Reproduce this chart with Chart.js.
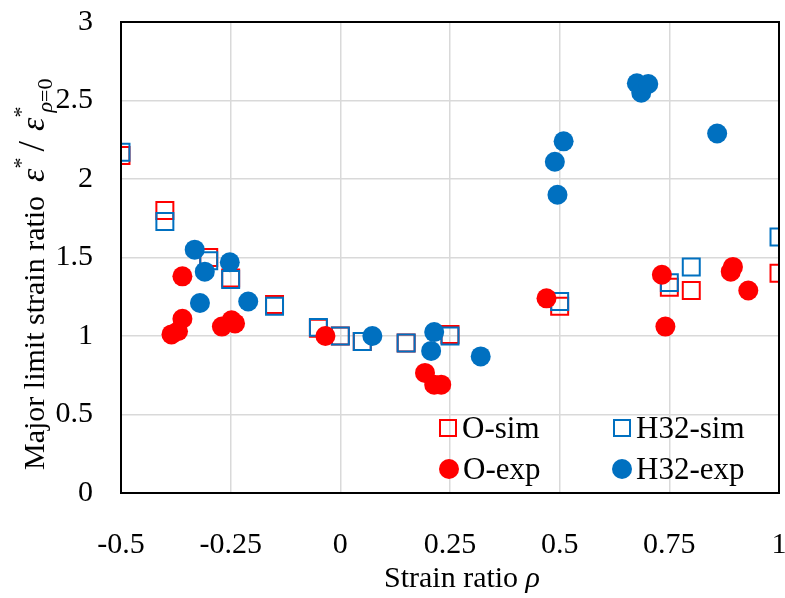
<!DOCTYPE html>
<html>
<head>
<meta charset="utf-8">
<script src="https://cdn.jsdelivr.net/npm/chart.js@4/dist/chart.umd.min.js"></script>
<style>
  html, body { margin: 0; padding: 0; background: #fff; }
</style>
</head>
<body>
<canvas id="chart" width="785" height="598"></canvas>
<script>
// strain ratio (rho) for the simulated curves
const simRho = [-0.5, -0.4, -0.3, -0.25, -0.15, -0.05, 0, 0.05, 0.15, 0.25, 0.5, 0.75, 0.8, 1.0];
const oSim = [2.15, 1.80, 1.50, 1.37, 1.20, 1.05, 1.00, 0.965, 0.955, 1.01, 1.19, 1.31, 1.29, 1.40];
const h32Sim = [2.17, 1.73, 1.48, 1.36, 1.19, 1.055, 1.00, 0.965, 0.955, 1.00, 1.22, 1.34, 1.44, 1.63];

// experiments
const oExpRho = [-0.36, -0.36, -0.37, -0.385, -0.27, -0.248, -0.24, -0.034, 0.193, 0.214, 0.23, 0.47, 0.733, 0.741, 0.895, 0.89, 0.93];
const oExp = [1.38, 1.11, 1.03, 1.01, 1.06, 1.10, 1.08, 1.00, 0.765, 0.69, 0.69, 1.24, 1.39, 1.06, 1.44, 1.41, 1.29];
const h32ExpRho = [-0.332, -0.309, -0.32, -0.252, -0.21, 0.073, 0.214, 0.207, 0.32, 0.509, 0.489, 0.495, 0.676, 0.686, 0.702, 0.859];
const h32Exp = [1.55, 1.41, 1.21, 1.47, 1.22, 1.00, 1.025, 0.905, 0.87, 2.24, 2.11, 1.90, 2.61, 2.55, 2.605, 2.29];

const xTicks = [-0.5, -0.25, 0, 0.25, 0.5, 0.75, 1];
const yTicks = [0, 0.5, 1, 1.5, 2, 2.5, 3];

const RED = '#FF0000';
const BLUE = '#0070C0';
const serif = '"Liberation Serif", "Times New Roman", serif';

function pts(xs, ys) {
  return xs.map((x, i) => ({ x: x, y: ys[i] }));
}

function richText(ctx, parts, x, y) {
  let cx = x;
  parts.forEach(p => {
    ctx.font = (p.italic ? 'italic ' : '') + p.size + 'px ' + serif;
    ctx.fillText(p.text, cx, y + (p.dy || 0));
    cx += ctx.measureText(p.text).width + (p.gap || 0);
  });
}

// box, axis titles and the 2x2 legend
const extras = {
  id: 'extras',
  afterDraw(chart) {
    const ctx = chart.ctx;
    const a = chart.chartArea;
    ctx.save();
    ctx.strokeStyle = '#000';
    ctx.lineWidth = 2;
    ctx.strokeRect(a.left, a.top, a.right - a.left, a.bottom - a.top);

    ctx.fillStyle = '#000';
    ctx.textBaseline = 'alphabetic';
    ctx.textAlign = 'left';

    // x title
    ctx.font = '30px ' + serif;
    const w1 = ctx.measureText('Strain ratio ').width;
    ctx.font = 'italic 30px ' + serif;
    const w2 = ctx.measureText('\u03c1').width;
    richText(ctx, [
      { text: 'Strain ratio ', size: 30 },
      { text: '\u03c1', size: 30, italic: true }
    ], 462 - (w1 + w2) / 2, 587);

    // y title
    ctx.save();
    ctx.translate(44, 470);
    ctx.rotate(-Math.PI / 2);
    richText(ctx, [
      { text: 'Major limit strain ratio', size: 30, gap: 14 },
      { text: '\u03b5', size: 34, italic: true },
      { text: '*', size: 22, dy: -16, gap: 6 },
      { text: '/', size: 38, gap: 10 },
      { text: '\u03b5', size: 34, italic: true },
      { text: '*', size: 22, dy: -16, gap: -6 },
      { text: '\u03c1', size: 22, italic: true, dy: 8 },
      { text: '=0', size: 22, dy: 8 }
    ], 0, 0);
    ctx.restore();

    // legend
    const items = [
      { label: 'O-sim', color: RED, shape: 'rect', x: 448, y: 428 },
      { label: 'H32-sim', color: BLUE, shape: 'rect', x: 622, y: 428 },
      { label: 'O-exp', color: RED, shape: 'circle', x: 449, y: 469 },
      { label: 'H32-exp', color: BLUE, shape: 'circle', x: 622, y: 469 }
    ];
    ctx.font = '31px ' + serif;
    ctx.textBaseline = 'middle';
    items.forEach(it => {
      if (it.shape === 'rect') {
        ctx.strokeStyle = it.color;
        ctx.lineWidth = 2;
        ctx.strokeRect(it.x - 8, it.y - 8, 16, 16);
      } else {
        ctx.fillStyle = it.color;
        ctx.beginPath();
        ctx.arc(it.x, it.y, 10, 0, Math.PI * 2);
        ctx.fill();
      }
      ctx.fillStyle = '#000';
      ctx.fillText(it.label, it.x + 14, it.y + 2);
    });
    ctx.restore();
  }
};

const chart = new Chart('chart', {
  type: 'scatter',
  data: {
    datasets: [
      {
        label: 'O-sim',
        data: pts(simRho, oSim),
        pointStyle: 'rect',
        pointRadius: 12,
        borderWidth: 2,
        borderColor: RED,
        backgroundColor: 'rgba(0,0,0,0)',
        order: 3
      },
      {
        label: 'H32-sim',
        data: pts(simRho, h32Sim),
        pointStyle: 'rect',
        pointRadius: 12,
        borderWidth: 2,
        borderColor: BLUE,
        backgroundColor: 'rgba(0,0,0,0)',
        order: 2
      },
      {
        label: 'O-exp',
        data: pts(oExpRho, oExp),
        pointStyle: 'circle',
        pointRadius: 10,
        borderWidth: 0,
        backgroundColor: RED,
        order: 1
      },
      {
        label: 'H32-exp',
        data: pts(h32ExpRho, h32Exp),
        pointStyle: 'circle',
        pointRadius: 10,
        borderWidth: 0,
        backgroundColor: BLUE,
        order: 0
      }
    ]
  },
  options: {
    responsive: false,
    animation: false,
    devicePixelRatio: 1,
    layout: {
      autoPadding: false,
      padding: { top: 22, right: 6, left: 0, bottom: 0 }
    },
    plugins: {
      legend: { display: false },
      tooltip: { enabled: false }
    },
    scales: {
      x: {
        type: 'linear',
        min: -0.5,
        max: 1,
        afterBuildTicks: (scale) => { scale.ticks = xTicks.map(v => ({ value: v })); },
        afterFit: (scale) => {
          scale.height = 105;
          scale.paddingLeft = 0;
          scale.paddingRight = 0;
        },
        ticks: {
          color: '#000',
          font: { family: serif, size: 30 },
          padding: 34,
          maxRotation: 0,
          autoSkip: false,
          callback: (v) => String(v)
        },
        grid: { color: '#D9D9D9', lineWidth: 1.5, drawTicks: false },
        border: { display: false }
      },
      y: {
        type: 'linear',
        min: 0,
        max: 3,
        afterBuildTicks: (scale) => { scale.ticks = yTicks.map(v => ({ value: v })); },
        afterFit: (scale) => {
          scale.width = 121;
          scale.paddingTop = 0;
          scale.paddingBottom = 0;
        },
        ticks: {
          color: '#000',
          font: { family: serif, size: 30 },
          padding: 28,
          callback: (v) => String(v)
        },
        grid: { color: '#D9D9D9', lineWidth: 1.5, drawTicks: false },
        border: { display: false }
      }
    }
  },
  plugins: [extras]
});
</script>
</body>
</html>
